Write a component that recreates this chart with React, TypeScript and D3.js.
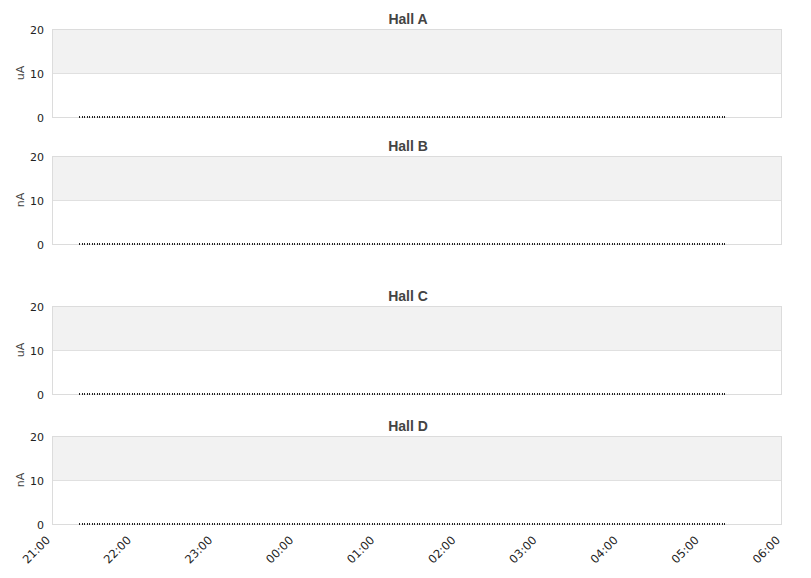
import * as d3 from 'd3';
import * as React from 'react';

// chart data
const halls = ['Hall A', 'Hall B', 'Hall C', 'Hall D'];
const units = ['uA', 'nA', 'uA', 'nA'];
const yTicks = [0, 10, 20];
const xTickLabels = ['21:00', '22:00', '23:00', '00:00', '01:00', '02:00', '03:00', '04:00', '05:00', '06:00'];
const sampleTimes = ['21:20', '22:00', '23:00', '00:00', '01:00', '02:00', '03:00', '04:00', '05:00', '05:19'];
const hallAValues = [0, 0, 0, 0, 0, 0, 0, 0, 0, 0];
const hallBValues = [0, 0, 0, 0, 0, 0, 0, 0, 0, 0];
const hallCValues = [0, 0, 0, 0, 0, 0, 0, 0, 0, 0];
const hallDValues = [0, 0, 0, 0, 0, 0, 0, 0, 0, 0];
const seriesValues = [hallAValues, hallBValues, hallCValues, hallDValues];

const W = 811;
const H = 578;
const left = 52;
const right = 782;
const panelTops = [29, 156, 306, 436];
const panelHeight = 88;
const FONT = '"DejaVu Sans", sans-serif';
const TITLE_FONT = '"Liberation Sans", Arial, sans-serif';

const parseHM = d3.timeParse('%H:%M');
// times after midnight belong to the next day
const toTime = (s: string): Date => {
    const d = parseHM(s) as Date;
    if (d.getHours() < 12) d.setDate(d.getDate() + 1);
    return d;
};

const x = d3.scaleTime()
    .domain([toTime('21:00'), toTime('06:00')])
    .range([left, right]);

const Panel = ({ index }: { index: number }) => {
    const top = panelTops[index];
    const y = d3.scaleLinear().domain([0, 20]).range([top + panelHeight, top]);
    const pts = sampleTimes.map((t, i) => [Math.round(x(toTime(t))), y(seriesValues[index][i])] as [number, number]);
    const line = d3.line();
    return (
        <g>
            <rect x={left} y={y(20)} width={right - left} height={y(10) - y(20)} fill="#f2f2f2" />
            <line x1={left} x2={right} y1={y(10) + 0.5} y2={y(10) + 0.5} stroke="#e0e0e0" />
            <rect x={left + 0.5} y={top + 0.5} width={right - left - 1} height={panelHeight} fill="none" stroke="#dcdcdc" />
            {yTicks.map(t => (
                <text key={t} x={44} y={y(t) + 1} dy="0.35em" textAnchor="end" fontSize={11} fill="#222">{t}</text>
            ))}
            <text
                transform={`translate(24,${top + panelHeight / 2}) rotate(-90)`}
                textAnchor="middle"
                fontSize={11}
                fill="#444"
            >
                {units[index]}
            </text>
            <text
                x={408}
                y={top - 5}
                textAnchor="middle"
                fontSize={14}
                fontWeight="bold"
                fill="#444"
                style={{ fontFamily: TITLE_FONT }}
            >
                {halls[index]}
            </text>
            <path
                d={line(pts) || ''}
                fill="none"
                stroke="#222"
                strokeWidth={2}
                strokeDasharray="1,1.5"
                shapeRendering="crispEdges"
            />
        </g>
    );
};

export default function App() {
    const bottom = panelTops[3] + panelHeight;
    return (
        <div style={{ position: 'absolute', left: 0, top: 0 }}>
            <svg width={W} height={H} style={{ fontFamily: FONT, display: 'block' }}>
                <rect width={W} height={H} fill="#fff" />
                {halls.map((h, i) => <Panel key={h} index={i} />)}
                {xTickLabels.map(t => (
                    <text
                        key={t}
                        transform={`translate(${x(toTime(t)) - 4},${bottom + 14}) rotate(-45)`}
                        textAnchor="end"
                        dy="0.35em"
                        fontSize={11.5}
                        fill="#222"
                    >
                        {t}
                    </text>
                ))}
            </svg>
        </div>
    );
}
